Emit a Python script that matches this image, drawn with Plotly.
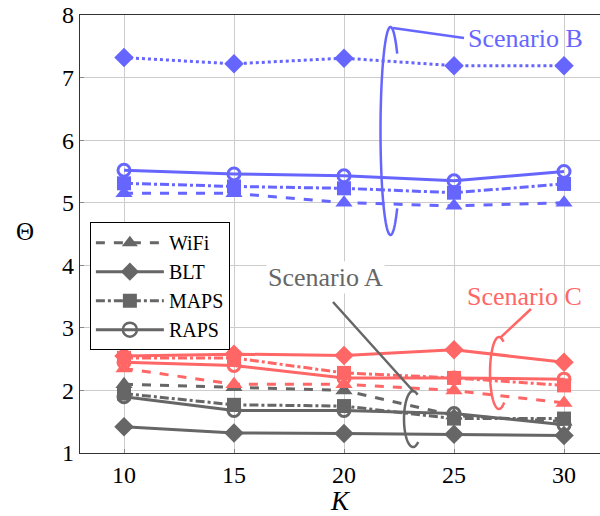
import numpy as np
import plotly.graph_objects as go

K = [10, 15, 20, 25, 30]
series_names = ["WiFi", "BLT", "MAPS", "RAPS"]

# Scenario A (gray)
A_wifi = [2.10, 2.05, 2.00, 1.60, 1.50]
A_blt = [1.42, 1.32, 1.31, 1.30, 1.28]
A_maps = [1.95, 1.77, 1.75, 1.55, 1.55]
A_raps = [1.90, 1.68, 1.68, 1.63, 1.45]

# Scenario B (blue)
B_wifi = [5.15, 5.15, 5.00, 4.95, 5.00]
B_blt = [7.32, 7.22, 7.31, 7.19, 7.19]
B_maps = [5.31, 5.26, 5.23, 5.16, 5.30]
B_raps = [5.52, 5.46, 5.43, 5.35, 5.50]

# Scenario C (red)
C_wifi = [2.35, 2.10, 2.10, 2.00, 1.80]
C_blt = [2.55, 2.58, 2.56, 2.65, 2.45]
C_maps = [2.52, 2.52, 2.28, 2.20, 2.08]
C_raps = [2.45, 2.40, 2.20, 2.20, 2.18]

GRAY = "#666666"
BLUE = "#6666FF"
RED = "#FF6666"
FONT = "Liberation Serif, DejaVu Serif, serif"

symbols = {"WiFi": "triangle-up", "BLT": "diamond", "MAPS": "square", "RAPS": "circle-open"}
sizes = {"WiFi": 15, "BLT": 15, "MAPS": 14, "RAPS": 12}
dashes = {"WiFi": "dash", "BLT": "solid", "MAPS": "dashdot", "RAPS": "solid"}

fig = go.Figure()

def add(ys, name, color, dash=None):
    sym = symbols[name]
    fig.add_trace(go.Scatter(
        x=K, y=ys, mode="lines+markers", showlegend=False,
        line=dict(color=color, width=3, dash=dash or dashes[name]),
        marker=dict(symbol=sym, size=sizes[name], color=color,
                    line=dict(color=color, width=3 if sym == "circle-open" else 0)),
    ))

for ys, n in [(A_wifi, "WiFi"), (A_blt, "BLT"), (A_maps, "MAPS"), (A_raps, "RAPS")]:
    add(ys, n, GRAY)
for ys, n in [(C_wifi, "WiFi"), (C_blt, "BLT"), (C_maps, "MAPS"), (C_raps, "RAPS")]:
    add(ys, n, RED)
for ys, n in [(B_wifi, "WiFi"), (B_maps, "MAPS"), (B_raps, "RAPS")]:
    add(ys, n, BLUE)
add(B_blt, "BLT", BLUE, dash="dot")

# legend entries (gray)
for n in series_names:
    sym = symbols[n]
    fig.add_trace(go.Scatter(
        x=[None], y=[None], mode="lines+markers", name=n,
        line=dict(color=GRAY, width=3, dash=dashes[n]),
        marker=dict(symbol=sym, size=14, color=GRAY,
                    line=dict(color=GRAY, width=2.5 if sym == "circle-open" else 0)),
    ))

# pixel -> data helpers for annotation geometry
def px2x(px):
    return 8 + (px - 80) / 22.0

def py2y(py):
    return 1 + (453 - py) / 62.57

def ellipse_path(cx, cy, a, b, t0, t1):
    ts = np.radians(np.linspace(t0, t1, 80))
    pts = [(px2x(cx + a * np.cos(t)), py2y(cy - b * np.sin(t))) for t in ts]
    return "M " + " L ".join(f"{x:.4f},{y:.4f}" for x, y in pts)

shapes = []
# Scenario B ellipse + pointer
shapes.append(dict(type="path", xref="x", yref="y",
                   path=ellipse_path(390.5, 131, 10, 104, 48, 312),
                   line=dict(color=BLUE, width=2.5)))
shapes.append(dict(type="line", xref="x", yref="y",
                   x0=px2x(393), y0=py2y(28), x1=px2x(464), y1=py2y(38),
                   line=dict(color=BLUE, width=2.5)))
# Scenario C ellipse + pointer
shapes.append(dict(type="path", xref="x", yref="y",
                   path=ellipse_path(499, 373, 9, 36, 60, 305),
                   line=dict(color=RED, width=2.5)))
shapes.append(dict(type="line", xref="x", yref="y",
                   x0=px2x(500), y0=py2y(338), x1=px2x(531), y1=py2y(309),
                   line=dict(color=RED, width=2.5)))
# Scenario A ellipse + pointer
shapes.append(dict(type="path", xref="x", yref="y",
                   path=ellipse_path(413, 419, 9, 28, 60, 305),
                   line=dict(color=GRAY, width=2.5)))
shapes.append(dict(type="line", xref="x", yref="y",
                   x0=px2x(333), y0=py2y(302), x1=px2x(414), y1=py2y(392),
                   line=dict(color=GRAY, width=2.5)))

annotations = [
    dict(x=px2x(466), y=py2y(39), xref="x", yref="y", text="Scenario B", showarrow=False,
         xanchor="left", yanchor="middle", font=dict(family=FONT, size=26, color=BLUE)),
    dict(x=px2x(465), y=py2y(296), xref="x", yref="y", text="Scenario C", showarrow=False,
         xanchor="left", yanchor="middle", font=dict(family=FONT, size=26, color=RED)),
    dict(x=px2x(266), y=py2y(277), xref="x", yref="y", text="Scenario A", showarrow=False,
         xanchor="left", yanchor="middle", bgcolor="white",
         font=dict(family=FONT, size=26, color=GRAY)),
    dict(x=(25 - 80) / 520.0, y=(453 - 232) / 438.0, xref="paper", yref="paper",
         text="Θ", showarrow=False, xanchor="center", yanchor="middle",
         font=dict(family=FONT, size=25, color="black")),
]

fig.update_layout(
    width=600, height=516,
    margin=dict(l=80, r=0, t=15, b=63),
    plot_bgcolor="white", paper_bgcolor="white",
    font=dict(family=FONT, size=22, color="black"),
    shapes=shapes, annotations=annotations,
    legend=dict(x=0.019, y=0.527, xanchor="left", yanchor="top",
                bgcolor="white", bordercolor="black", borderwidth=1,
                font=dict(family=FONT, size=20, color="black"),
                itemwidth=68, tracegroupgap=0),
)
fig.update_xaxes(range=[8, 31.636], tickvals=K, ticktext=[str(k) for k in K],
                 showgrid=True, gridcolor="#cccccc", gridwidth=1,
                 showline=True, linecolor="#333333", linewidth=1.2, mirror=True,
                 ticks="inside", ticklen=4, tickcolor="#888888",
                 zeroline=False, tickfont=dict(family=FONT, size=24),
                 title=dict(text="<i>K</i>", font=dict(family=FONT, size=27), standoff=4))
fig.update_yaxes(range=[1, 8], dtick=1,
                 showgrid=True, gridcolor="#cccccc", gridwidth=1,
                 showline=True, linecolor="#333333", linewidth=1.2, mirror=True,
                 ticks="inside", ticklen=4, tickcolor="#888888",
                 zeroline=False, tickfont=dict(family=FONT, size=24))

fig.write_html("out.html")
